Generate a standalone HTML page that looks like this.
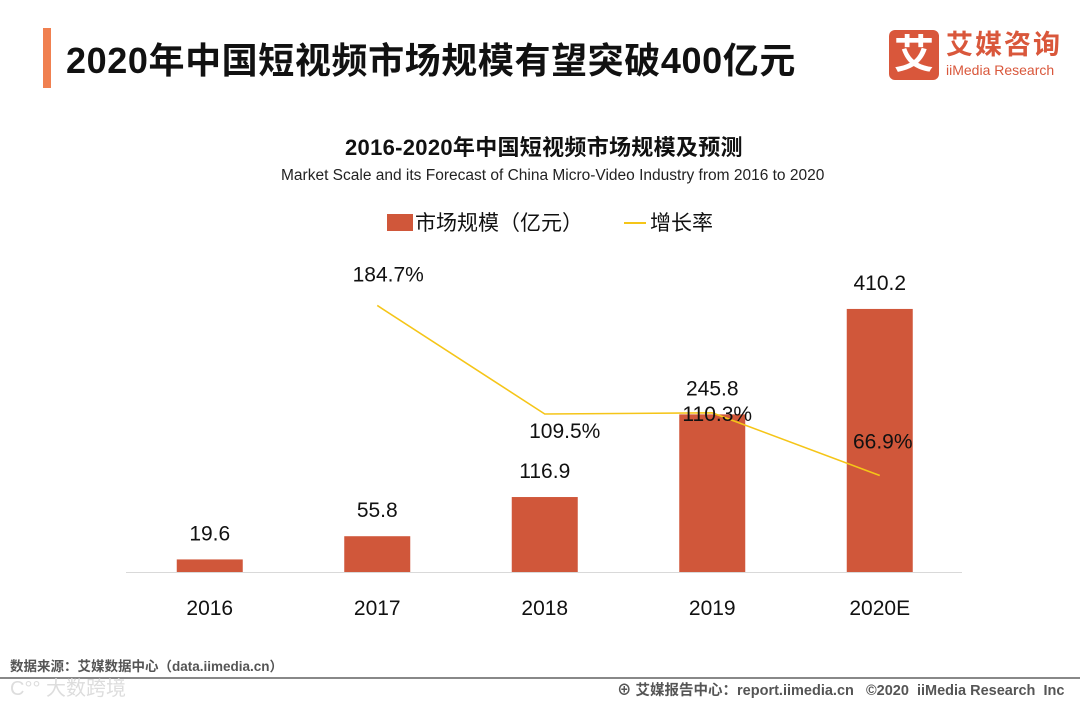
<!DOCTYPE html>
<html><head><meta charset="utf-8"><style>
body{margin:0;width:1080px;height:702px;background:#fff;overflow:hidden;position:relative;font-family:"Liberation Sans","Noto Sans CJK SC",sans-serif;}
.abs{position:absolute;white-space:nowrap;}
</style></head><body>
<div class="abs" style="left:43px;top:28px;width:8px;height:60px;background:#f08050;"></div>
<div class="abs" style="left:66px;top:32px;font-size:36px;letter-spacing:0.6px;font-weight:bold;color:#111;">2020年中国短视频市场规模有望突破400亿元</div>
<div class="abs" style="left:889px;top:30px;width:50px;height:50px;background:#d9573b;border-radius:6px;color:#fff;font-size:40px;font-weight:bold;text-align:center;line-height:50px;">艾</div>
<div class="abs" style="left:946px;top:29px;font-size:27px;font-weight:bold;color:#d9573b;letter-spacing:2px;line-height:32px;">艾媒咨询</div>
<div class="abs" style="left:946px;top:62px;font-size:14px;color:#d9573b;line-height:16px;">iiMedia Research</div>
<div class="abs" style="left:345px;top:130px;font-size:22px;letter-spacing:0.3px;font-weight:bold;color:#111;">2016-2020年中国短视频市场规模及预测</div>
<div class="abs" style="left:281px;top:167px;font-size:15.5px;color:#222;">Market Scale and its Forecast of China Micro-Video Industry from 2016 to 2020</div>
<div class="abs" style="left:387px;top:207px;font-size:21px;color:#111;"><span style="display:inline-block;width:26px;height:17px;background:#d0573a;vertical-align:-1px;margin-right:2px;"></span>市场规模（亿元）</div>
<div class="abs" style="left:624px;top:207px;font-size:21px;color:#111;"><span style="display:inline-block;width:22px;height:2px;background:#f5c518;vertical-align:6px;margin-right:4px;"></span>增长率</div>
<svg class="abs" id="chart" style="left:0;top:0;" width="1080" height="702" font-family="Liberation Sans, Noto Sans CJK SC, sans-serif"></svg>
<div class="abs" style="left:10px;top:655px;font-size:13.5px;font-weight:bold;color:#555;">数据来源：艾媒数据中心（data.iimedia.cn）</div>
<div class="abs" style="left:0;top:677px;width:1080px;height:2px;background:#888;"></div>
<div class="abs" style="left:10px;top:672px;font-size:20px;color:#ddd;">C°° 大数跨境</div>
<div class="abs" style="left:617px;top:679px;font-size:14.5px;font-weight:bold;color:#555;">⊕ 艾媒报告中心：report.iimedia.cn &nbsp; ©2020 &nbsp;iiMedia Research &nbsp;Inc</div>
<script>
const categories=["2016","2017","2018","2019","2020E"];
const marketValues=[19.6,55.8,116.9,245.8,410.2];
const growthCats=["2017","2018","2019","2020E"];
const growthValues=[184.7,109.5,110.3,66.9];
const growthLabels=["184.7%","109.5%","110.3%","66.9%"];
const NS="http://www.w3.org/2000/svg";
const svg=document.getElementById('chart');
const base=572,x0=126,step=167.5;
function xPos(c){return x0+step*(categories.indexOf(c)+0.5);}
function yBar(v){return base-v*0.6413;}
function yLine(v){return base-v*1.443;}
function mk(t,a){const e=document.createElementNS(NS,t);for(const k in a)e.setAttribute(k,a[k]);svg.appendChild(e);return e;}
const ax=mk('line',{x1:126,x2:962,y1:base+0.5,y2:base+0.5,stroke:'#d9d9d9','stroke-width':1});


categories.forEach((c,i)=>{
  const x=xPos(c),y=yBar(marketValues[i]);
  const r=mk('rect',{x:x-33,y:y,width:66,height:base-y,fill:'#d0573a'});
  
  
  const t=mk('text',{x:x,y:y-19,'text-anchor':'middle','font-size':21,fill:'#111'});
  t.textContent=marketValues[i];
  
  
  const l=mk('text',{x:x,y:615,'text-anchor':'middle','font-size':21,fill:'#111'});
  l.textContent=c;
  
  
});
const pts=growthCats.map((c,i)=>xPos(c)+','+yLine(growthValues[i])).join(' ');
const pl=mk('polyline',{points:pts,fill:'none',stroke:'#f5c518','stroke-width':1.6});


const offs=[[11,-24],[20,24],[5,8],[3,-27]];
growthCats.forEach((c,i)=>{
  const t=mk('text',{x:xPos(c)+offs[i][0],y:yLine(growthValues[i])+offs[i][1],'text-anchor':'middle','font-size':21,fill:'#111'});
  t.textContent=growthLabels[i];
  
  
});
</script>
</body></html>
